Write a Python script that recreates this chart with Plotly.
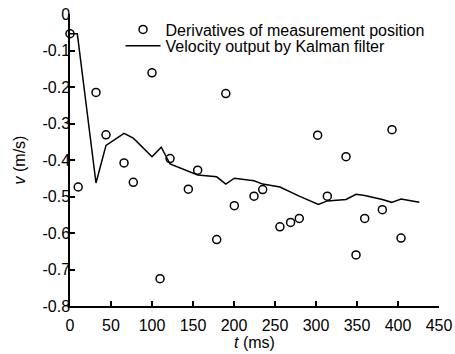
import plotly.graph_objects as go

# Measured derivative points
t_meas = [0, 10, 31.7, 43.9, 65.9, 77.2, 100, 109.8, 122, 144.3, 155.7, 178.9, 190,
          200.4, 224.4, 235, 256, 269, 279.6, 302, 313.8, 336.6, 348.8, 359.4, 380.9,
          392.7, 403.7]
v_meas = [-0.054, -0.474, -0.215, -0.331, -0.408, -0.461, -0.161, -0.725, -0.396,
          -0.48, -0.428, -0.618, -0.218, -0.525, -0.499, -0.481, -0.583, -0.571,
          -0.56, -0.332, -0.499, -0.391, -0.66, -0.56, -0.536, -0.317, -0.614]

# Kalman filter velocity output
t_kf = [0, 8.9, 31.7, 43.9, 65.9, 77.2, 100, 111.3, 122, 144.3, 155.7, 178.9, 190,
        200.4, 224.4, 235, 256, 279.6, 302.8, 313.8, 336.6, 348.8, 359.4, 380.9,
        392.3, 403.7, 426]
v_kf = [-0.054, -0.054, -0.463, -0.36, -0.327, -0.34, -0.391, -0.365, -0.411,
        -0.432, -0.441, -0.446, -0.466, -0.45, -0.457, -0.466, -0.474, -0.499,
        -0.522, -0.512, -0.508, -0.494, -0.497, -0.508, -0.516, -0.507, -0.516]

x_ticks = [0, 50, 100, 150, 200, 250, 300, 350, 400, 450]
y_ticks = [0, -0.1, -0.2, -0.3, -0.4, -0.5, -0.6, -0.7, -0.8]
y_ticktext = ["0", "-0.1", "-0.2", "-0.3", "-0.4", "-0.5", "-0.6", "-0.7", "-0.8"]

FONT = "Arial, Liberation Sans, sans-serif"
FS = 16

fig = go.Figure()
fig.add_trace(go.Scatter(
    x=t_meas, y=v_meas, mode="markers",
    name="Derivatives of measurement position",
    marker=dict(symbol="circle-open", size=8, color="black", line=dict(width=1.5, color="black")),
    cliponaxis=False, legend="legend",
))
fig.add_trace(go.Scatter(
    x=t_kf, y=v_kf, mode="lines",
    name="Velocity output by Kalman filter",
    line=dict(color="black", width=1.5),
    cliponaxis=False, legend="legend2",
))

legend_style = dict(xanchor="left", yanchor="top", bgcolor="rgba(0,0,0,0)", borderwidth=0,
                    itemwidth=35,
                    font=dict(family=FONT, size=FS, color="black"))

fig.update_layout(
    template="none",
    width=455, height=354,
    margin=dict(l=70, r=16, t=14, b=48, pad=0),
    paper_bgcolor="white", plot_bgcolor="white",
    font=dict(family=FONT, size=FS, color="black"),
    showlegend=True,
    legend=dict(x=0.137, y=1.005, **legend_style),
    legend2=dict(x=0.137, y=0.949, **legend_style),
)
fig.update_xaxes(
    range=[0, 450], tickvals=x_ticks, showgrid=False, zeroline=False, automargin=False,
    showline=True, linecolor="black", linewidth=1.5,
    ticks="inside", ticklen=5, tickwidth=1.5, tickcolor="black",
    ticklabelstandoff=4,
    title=dict(text="<i>t</i> (ms)", standoff=4, font=dict(size=FS)),
)
fig.update_yaxes(
    range=[-0.8, 0], tickvals=y_ticks, ticktext=y_ticktext, showgrid=False, zeroline=False,
    automargin=False,
    showline=True, linecolor="black", linewidth=1.5,
    ticks="inside", ticklen=5, tickwidth=1.5, tickcolor="black",
    ticklabelstandoff=-5,
    title=dict(text="<i>v</i> (m/s)", standoff=13, font=dict(size=FS)),
)

fig.write_html("out.html", config={"displayModeBar": False},
               post_script="document.body.style.margin='0';")
